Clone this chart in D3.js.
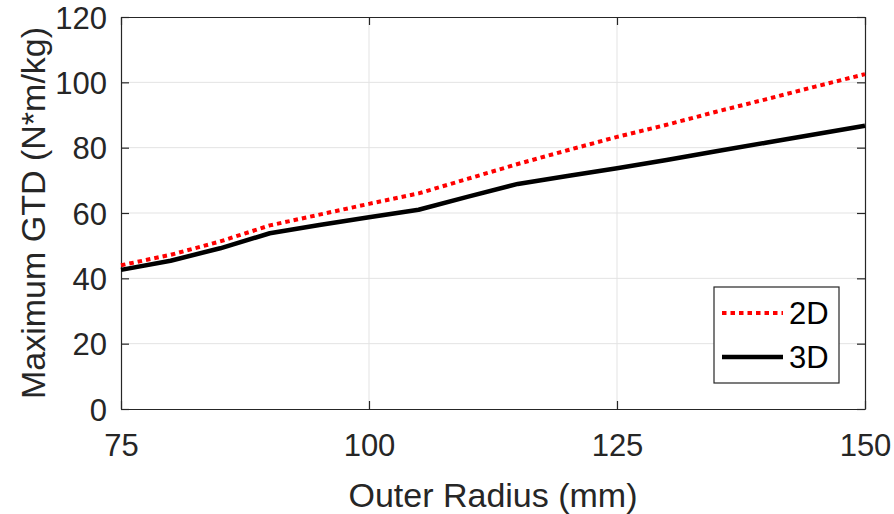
<!DOCTYPE html>
<html>
<head>
<meta charset="utf-8">
<script src="https://cdn.jsdelivr.net/npm/d3@7"></script>
<style>
  body { margin: 0; background: #fff; }
  svg { font-family: "Liberation Sans", Arial, Helvetica, sans-serif; }
</style>
</head>
<body>
<div id="chart"></div>
<script>
// GTD vs outer radius, 2D vs 3D model
const radius = [75, 80, 85, 90, 95, 100, 105, 110, 115, 120, 125, 130, 135, 140, 145, 150];
const gtd2D = [44.0, 47.2, 51.3, 56.2, 59.5, 62.8, 66.0, 70.5, 75.0, 79.2, 83.3, 87.0, 91.0, 94.8, 98.7, 102.5];
const gtd3D = [42.6, 45.4, 49.2, 53.8, 56.3, 58.7, 61.0, 65.0, 68.9, 71.3, 73.7, 76.2, 78.9, 81.5, 84.1, 86.7];
const xTicks = [75, 100, 125, 150];
const yTicks = [0, 20, 40, 60, 80, 100, 120];
const seriesNames = ["2D", "3D"];

const W = 894, H = 514;
const margin = { top: 17, right: 29, bottom: 105, left: 121 };
const width = W - margin.left - margin.right;
const height = H - margin.top - margin.bottom;

const axisColor = "#262626";
const gridColor = "#e3e3e3";

const svg = d3.select("#chart")
  .append("svg")
  .attr("width", W)
  .attr("height", H);

const g = svg.append("g")
  .attr("transform", `translate(${margin.left},${margin.top})`);

const x = d3.scaleLinear().domain([75, 150]).range([0, width]);
const y = d3.scaleLinear().domain([0, 120]).range([height, 0]);

// grid
g.append("g")
  .selectAll("line")
  .data(xTicks.slice(1, -1))
  .join("line")
  .attr("x1", d => x(d)).attr("x2", d => x(d))
  .attr("y1", 0).attr("y2", height)
  .attr("stroke", gridColor).attr("stroke-width", 1);

g.append("g")
  .selectAll("line")
  .data(yTicks.slice(1, -1))
  .join("line")
  .attr("x1", 0).attr("x2", width)
  .attr("y1", d => y(d)).attr("y2", d => y(d))
  .attr("stroke", gridColor).attr("stroke-width", 1);

// axes (ticks inward, box on)
const tickLen = 8;
const xAxis = g.append("g")
  .attr("transform", `translate(0,${height})`)
  .call(d3.axisBottom(x).tickValues(xTicks).tickSize(-tickLen).tickPadding(25).tickSizeOuter(0));
const yAxis = g.append("g")
  .call(d3.axisLeft(y).tickValues(yTicks).tickSize(-tickLen).tickPadding(14).tickSizeOuter(0));
const xTop = g.append("g")
  .call(d3.axisTop(x).tickValues(xTicks).tickSize(-tickLen).tickFormat("").tickSizeOuter(0));
const yRight = g.append("g")
  .attr("transform", `translate(${width},0)`)
  .call(d3.axisRight(y).tickValues(yTicks).tickSize(-tickLen).tickFormat("").tickSizeOuter(0));

[xAxis, yAxis, xTop, yRight].forEach(a => {
  a.selectAll(".domain").attr("stroke", axisColor).attr("stroke-width", 1.2);
  a.selectAll(".tick line").attr("stroke", axisColor).attr("stroke-width", 1.2);
  a.selectAll(".tick text")
    .attr("fill", axisColor)
    .style("font-size", "31px")
    .style("font-family", "\"Liberation Sans\", Arial, sans-serif");
});
xAxis.selectAll(".tick text").attr("dy", "0.71em");
yAxis.selectAll(".tick text").attr("dy", "0.36em");

// lines
const line = d3.line()
  .x((d, i) => x(radius[i]))
  .y(d => y(d));

g.append("path")
  .datum(gtd3D)
  .attr("d", line)
  .attr("fill", "none")
  .attr("stroke", "#000")
  .attr("stroke-width", 4.5)
  .attr("stroke-linejoin", "round");

g.append("path")
  .datum(gtd2D)
  .attr("d", line)
  .attr("fill", "none")
  .attr("stroke", "#ff0000")
  .attr("stroke-width", 4)
  .attr("stroke-dasharray", "4.5,4");

// axis labels
svg.append("text")
  .attr("x", margin.left + width / 2)
  .attr("y", 507)
  .attr("text-anchor", "middle")
  .attr("fill", axisColor)
  .style("font-size", "34px")
  .text("Outer Radius (mm)");

svg.append("text")
  .attr("transform", `translate(45,${margin.top + height / 2}) rotate(-90)`)
  .attr("text-anchor", "middle")
  .attr("fill", axisColor)
  .style("font-size", "34px")
  .text("Maximum GTD (N*m/kg)");

// legend
const legend = svg.append("g").attr("transform", "translate(714,287)");
legend.append("rect")
  .attr("width", 125).attr("height", 96)
  .attr("fill", "#fff")
  .attr("stroke", axisColor).attr("stroke-width", 1.2);

const legendStyles = [
  { stroke: "#ff0000", width: 4, dash: "4.5,4" },
  { stroke: "#000", width: 4.5, dash: null }
];
seriesNames.forEach((name, i) => {
  const yy = 26 + i * 44;
  legend.append("line")
    .attr("x1", 8).attr("x2", 69)
    .attr("y1", yy).attr("y2", yy)
    .attr("stroke", legendStyles[i].stroke)
    .attr("stroke-width", legendStyles[i].width)
    .attr("stroke-dasharray", legendStyles[i].dash);
  legend.append("text")
    .attr("x", 75).attr("y", yy)
    .attr("dy", "0.36em")
    .attr("fill", "#000")
    .style("font-size", "31px")
    .text(name);
});
</script>
</body>
</html>
